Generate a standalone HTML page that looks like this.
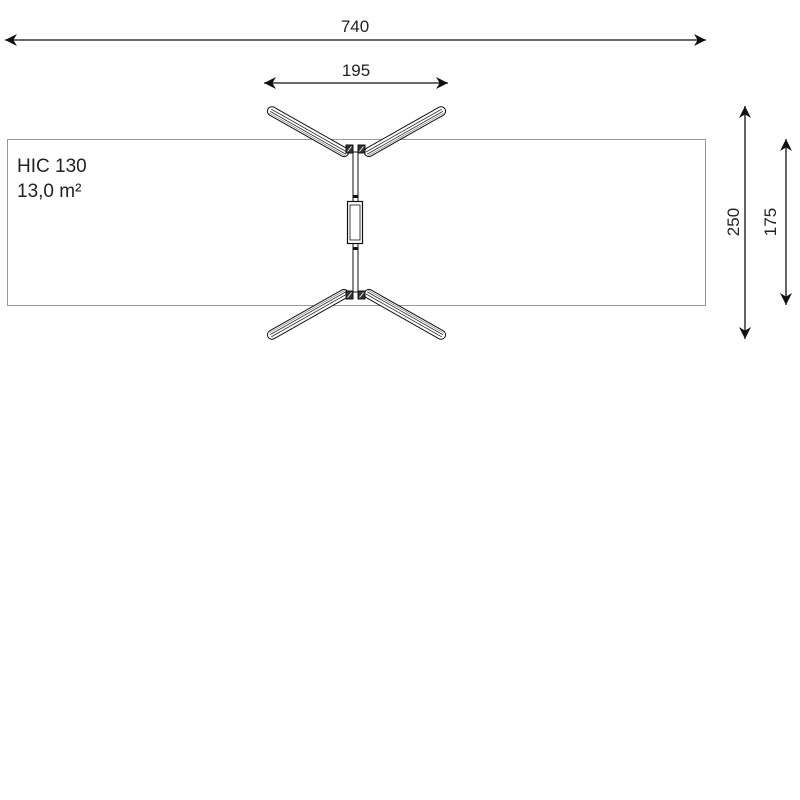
<!DOCTYPE html>
<html><head><meta charset="utf-8"><style>
html,body{margin:0;padding:0;background:#fff;}
svg{display:block;}
text{font-family:"Liberation Sans",sans-serif;fill:#222;}
</style></head><body>
<svg width="800" height="800" viewBox="0 0 800 800" xmlns="http://www.w3.org/2000/svg">
<defs>
<marker id="a" viewBox="0 0 10 10" refX="10" refY="5" markerWidth="14" markerHeight="12" markerUnits="userSpaceOnUse" orient="auto-start-reverse">
<path d="M0,0 L10,5 L0,10 L3,5 Z" fill="#111"/></marker>
<g id="leg">
<rect x="0" y="-4.5" width="92" height="9" rx="4.5" fill="#fff" stroke="#111" stroke-width="1"/>
<line x1="3" y1="-1.5" x2="90" y2="-1.5" stroke="#111" stroke-width="0.7"/>
<line x1="3" y1="1" x2="90" y2="1" stroke="#111" stroke-width="0.7"/>
<line x1="3" y1="2.8" x2="90" y2="2.8" stroke="#555" stroke-width="0.5"/>
</g>
</defs>
<rect x="7.5" y="139.5" width="698" height="166" fill="none" stroke="#999" stroke-width="1"/>
<text x="17" y="172" font-size="19">HIC 130</text>
<text x="17" y="197" font-size="19">13,0 m²</text>

<line x1="5" y1="40" x2="706" y2="40" stroke="#111" stroke-width="1.3" marker-start="url(#a)" marker-end="url(#a)"/>
<text x="355" y="32" font-size="17" text-anchor="middle">740</text>
<line x1="264" y1="83" x2="448" y2="83" stroke="#111" stroke-width="1.3" marker-start="url(#a)" marker-end="url(#a)"/>
<text x="356" y="76" font-size="17" text-anchor="middle">195</text>
<line x1="745" y1="106" x2="745" y2="339" stroke="#111" stroke-width="1.3" marker-start="url(#a)" marker-end="url(#a)"/>
<text transform="translate(739,222) rotate(-90)" font-size="17" text-anchor="middle">250</text>
<line x1="786" y1="139" x2="786" y2="305" stroke="#111" stroke-width="1.3" marker-start="url(#a)" marker-end="url(#a)"/>
<text transform="translate(776,222) rotate(-90)" font-size="17" text-anchor="middle">175</text>

<use href="#leg" transform="translate(268,109) rotate(29.5)"/>
<use href="#leg" transform="translate(445,109) scale(-1,1) rotate(29.5)"/>
<use href="#leg" transform="translate(268,337) scale(1,-1) rotate(29.5)"/>
<use href="#leg" transform="translate(445,337) scale(-1,-1) rotate(29.5)"/>

<rect x="353" y="152" width="5" height="140" fill="#fff" stroke="#111" stroke-width="1"/>
<rect x="347.5" y="201.5" width="15" height="42" fill="#fff" stroke="#111" stroke-width="1.2"/>
<rect x="350" y="205" width="10" height="35" fill="none" stroke="#111" stroke-width="0.8"/>
<rect x="353" y="195" width="5" height="3" fill="#111"/>
<rect x="353" y="247" width="5" height="3" fill="#111"/>
<g fill="#333" stroke="#111">
<rect x="346" y="145" width="7" height="8"/>
<rect x="358" y="145" width="7" height="8"/>
<rect x="346" y="291" width="7" height="8"/>
<rect x="358" y="291" width="7" height="8"/>
</g>
<g stroke="#fff" stroke-width="0.8">
<line x1="347.5" y1="151.5" x2="351.5" y2="146.5"/><line x1="359.5" y1="151.5" x2="363.5" y2="146.5"/>
<line x1="347.5" y1="297.5" x2="351.5" y2="292.5"/><line x1="359.5" y1="297.5" x2="363.5" y2="292.5"/>
</g>
</svg>
</body></html>
